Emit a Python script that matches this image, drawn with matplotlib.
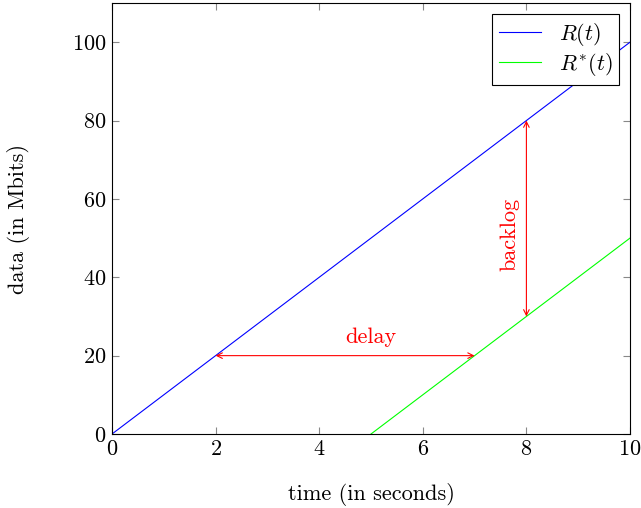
import matplotlib
matplotlib.use("Agg")
import matplotlib.pyplot as plt

plt.rcParams["font.family"] = "serif"
plt.rcParams["font.serif"] = ["cmr10"]
plt.rcParams["mathtext.fontset"] = "cm"
plt.rcParams["axes.formatter.use_mathtext"] = True

# data
r_t = [0, 10]
r_vals = [0, 100]
rs_t = [5, 10]
rs_vals = [0, 50]
delay_x = [2, 7]
delay_y = 20
backlog_x = 8
backlog_y = [30, 80]
xticks = [0, 2, 4, 6, 8, 10]
yticks = [0, 20, 40, 60, 80, 100]

FS = 16

fig = plt.figure(figsize=(6.41, 5.08), dpi=100)
ax = fig.add_axes([112/641, 74/508, 518/641, 431/508])

ax.plot(r_t, r_vals, color="blue", lw=0.8, label=r"$R(t)$")
ax.plot(rs_t, rs_vals, color="#00ff00", lw=0.8, label=r"$R^{*}(t)$")

arrow = dict(arrowstyle="<->", color="red", lw=0.8, shrinkA=0, shrinkB=0)
ax.annotate("", xy=(delay_x[1], delay_y), xytext=(delay_x[0], delay_y), arrowprops=arrow)
ax.annotate("", xy=(backlog_x, backlog_y[1]), xytext=(backlog_x, backlog_y[0]), arrowprops=arrow)
ax.text(5.0, delay_y + 2.3, "delay", color="red", fontsize=FS, ha="center", va="bottom")
ax.text(7.68, 51, "backlog", color="red", fontsize=FS, ha="center", va="center", rotation=90)

ax.set_xlim(0, 10)
ax.set_ylim(0, 110)
ax.set_xticks(xticks)
ax.set_yticks(yticks)
ax.tick_params(direction="in", top=True, right=True, length=5, color="#888888",
               labelsize=FS, pad=4)
for s in ax.spines.values():
    s.set_linewidth(0.8)
ax.set_xlabel("time (in seconds)", fontsize=FS, labelpad=17)
ax.set_ylabel("data (in Mbits)", fontsize=FS, labelpad=30)

leg = ax.legend(loc="upper right", fontsize=FS, fancybox=False, edgecolor="black",
                framealpha=1, handlelength=1.9, borderaxespad=0.5, labelspacing=0.15,
                borderpad=0.3)
leg.get_frame().set_linewidth(0.8)

fig.savefig("out.png", dpi=100)
